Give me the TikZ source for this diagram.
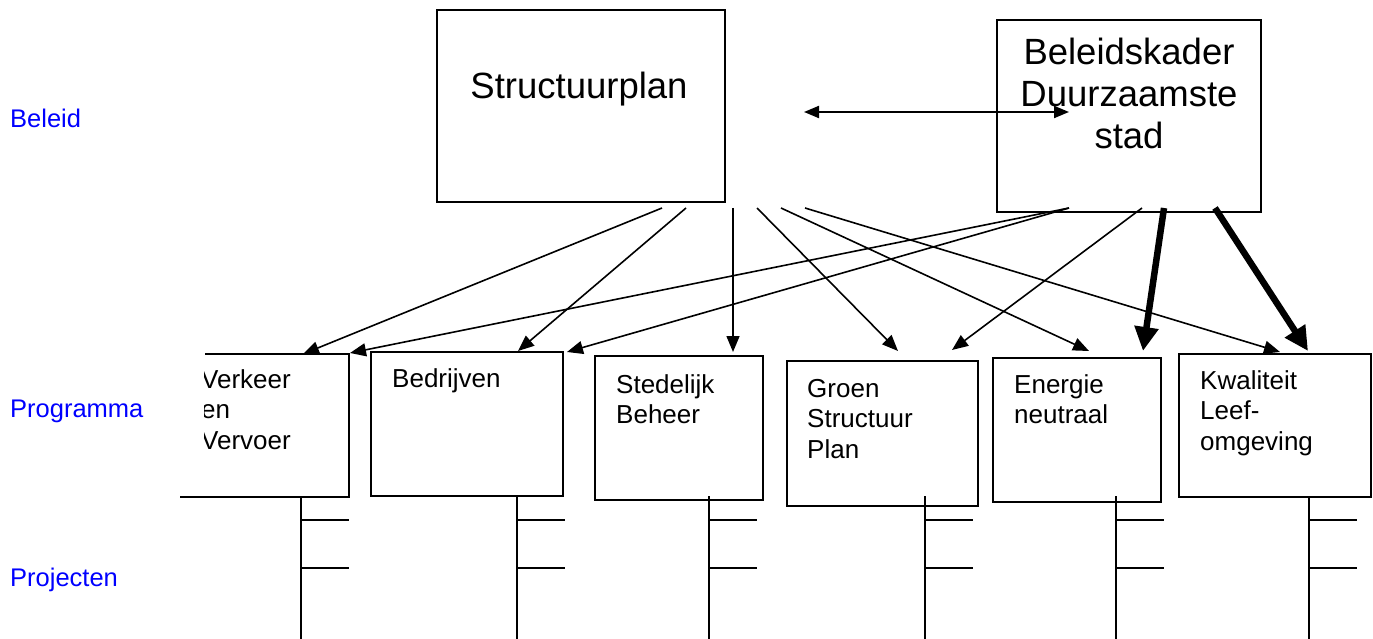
\documentclass[tikz,border=0pt]{standalone}
\usepackage{fontspec}
\setmainfont{Liberation Sans}
\usetikzlibrary{arrows.meta}
\begin{document}
\begin{tikzpicture}[x=1pt,y=-1pt,
 box/.style={draw,line width=2pt,inner sep=0pt,outer sep=0pt,anchor=north west},
 big/.style={font=\fontsize{36.5}{42}\selectfont,inner sep=0pt,anchor=base,align=center},
 lbl/.style={text=blue,font=\fontsize{25.5}{30}\selectfont,anchor=base west,inner sep=0pt},
 ptxt/.style={font=\fontsize{26}{30.5}\selectfont,anchor=base west,inner sep=0pt,align=left},
 arr/.style={line width=1.6pt,-{Triangle[length=16pt,width=13pt]}},
 dbl/.style={line width=2pt,{Triangle[length=15pt,width=12pt]}-{Triangle[length=15pt,width=12pt]}},
 thk/.style={line width=6.5pt,-{Triangle[length=24pt,width=23pt]}},
 stem/.style={line width=1.6pt},
 tickline/.style={line width=2pt}]
\useasboundingbox (0,0) rectangle (1373,639);

% side labels
\node[lbl] (lb1) at (10,128) {Beleid};
\node[lbl] (lb2) at (10,417) {Programma};
\node[lbl] (lb3) at (10,586) {Projecten};

% top boxes
\node[box,minimum width=288pt,minimum height=192pt] (sp) at (437,10) {};
\node[big] (spt) at (579,99) {Structuurplan};
\node[box,minimum width=264pt,minimum height=192pt] (bk) at (997,20) {};
\node[big] (bkt) at (1129,149) {Beleidskader\\Duurzaamste\\stad};

% programme boxes
\node[inner sep=0pt,outer sep=0pt,anchor=north west,minimum width=169pt,minimum height=143pt] (p1) at (180,354) {};
\draw[line width=2pt] (205,354) -- (p1.north east) -- (p1.south east) -- (p1.south west);
\begin{scope}
\clip (204,340) rectangle (349,500);
\node[ptxt] (p1t) at (201,449) {Verkeer\\en\\Vervoer};
\end{scope}
\node[box,minimum width=192pt,minimum height=144pt] (p2) at (371,352) {};
\node[ptxt] (p2t) at (392,387) {Bedrijven};
\node[box,minimum width=168pt,minimum height=144pt] (p3) at (595,356) {};
\node[ptxt] (p3t) at (616,423.5) {Stedelijk\\Beheer};
\node[box,minimum width=191pt,minimum height=145pt] (p4) at (787,361) {};
\node[ptxt] (p4t) at (807,458) {Groen\\Structuur\\Plan};
\node[box,minimum width=168pt,minimum height=144pt] (p5) at (993,358) {};
\node[ptxt] (p5t) at (1014,423.5) {Energie\\neutraal};
\node[box,minimum width=192pt,minimum height=143pt] (p6) at (1179,354) {};
\node[ptxt] (p6t) at (1200,450) {Kwaliteit\\Leef-\\omgeving};

% arrow end points
\coordinate (s1) at (662,208); \coordinate (e1) at (303,354);
\coordinate (s2) at (686,208); \coordinate (e2) at (518,351);
\coordinate (s3) at (733,208); \coordinate (e3) at (733,352);
\coordinate (s4) at (757,208); \coordinate (e4) at (898,351);
\coordinate (s5) at (781,208); \coordinate (e5) at (1089,351);
\coordinate (s6) at (805,208); \coordinate (e6) at (1280,352);
\coordinate (t1) at (1069,208); \coordinate (f1) at (350,353);
\coordinate (t2) at (1069,208); \coordinate (f2) at (567,352);
\coordinate (t3) at (1142,208); \coordinate (f3) at (952,350);
\coordinate (t4) at (1164,208); \coordinate (f4) at (1143,351);
\coordinate (t5) at (1215,208); \coordinate (f5) at (1308,351);
\coordinate (d1) at (804,112); \coordinate (d2) at (1069,112);

\draw[dbl] (d1) -- (d2);
\foreach \a/\b in {s1/e1,s2/e2,s3/e3,s4/e4,s5/e5,s6/e6,t1/f1,t2/f2,t3/f3}
  \draw[arr] (\a) -- (\b);
\draw[thk] (t4) -- (f4);
\draw[thk] (t5) -- (f5);

% project stems
\foreach \x/\n in {301/1,517/2,709/3,925/4,1116/5,1309/6}{
  \coordinate (q\n a) at (\x,496);
  \coordinate (q\n b) at (\x,639);
  \coordinate (q\n c) at (\x,520);
  \coordinate (q\n d) at (\x+48,520);
  \coordinate (q\n e) at (\x,568);
  \coordinate (q\n f) at (\x+48,568);
  \draw[stem] (q\n a) -- (q\n b);
  \draw[tickline] (q\n c) -- (q\n d);
  \draw[tickline] (q\n e) -- (q\n f);
}
\end{tikzpicture}
\end{document}
